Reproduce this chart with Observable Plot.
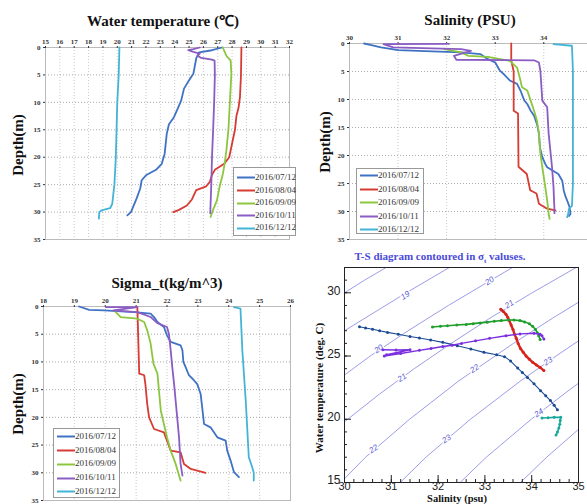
<!DOCTYPE html>
<html><head><meta charset="utf-8">
<script src="https://cdn.jsdelivr.net/npm/d3@7"></script>
<script src="https://cdn.jsdelivr.net/npm/@observablehq/plot@0.6"></script>
<style>
body{margin:0;background:#fff;}
#wrap{position:relative;width:587px;height:504px;overflow:hidden;background:#fff;}
.panel{position:absolute;}
.lbl{position:absolute;font-family:"Liberation Serif","Times New Roman",serif;font-weight:bold;white-space:nowrap;line-height:1;}
.legend{position:absolute;border:1px solid #999;background:#fff;box-sizing:border-box;font-family:"Liberation Serif",serif;font-size:9px;color:#333;}
.legend .row{position:absolute;white-space:nowrap;line-height:1;}
</style></head>
<body><div id="wrap"></div>
<script>
// ---------- categories ----------
const dates = ["2016/07/12","2016/08/04","2016/09/09","2016/10/11","2016/12/12"];
const profileColors = ["#3f72c4","#d63b34","#8cc63f","#8a5cc4","#44b4d6"];
const tsColors = ["#1b4a94","#d8231c","#1e9e2a","#7a2ee0","#1aa89e"];

// ---------- tick labels ----------
const depthTicks = [0,5,10,15,20,25,30,35];
const tempTicks = [15,16,17,18,19,20,21,22,23,24,25,26,27,28,29,30,31,32];
const salTicks = [30,31,32,33,34];
const sigmaTicks = [18,19,20,21,22,23,24,25,26];
const tsSalTicks = [30,31,32,33,34,35];
const tsTempTicks = [15,20,25,30];

// ---------- water temperature profiles [depth m, T degC] ----------
const tempJul = [[0,27.3],[0.5,26.6],[0.9,25.7],[2,25.5],[4.8,25.3],[6.4,24.9],[7.5,24.65],[9.7,24.45],[10.9,24.25],[12.7,23.95],[14,23.6],[15.7,23.45],[19.4,23.3],[21.2,23.1],[22.3,22.7],[23.3,22.0],[24.2,21.7],[25.7,21.6],[27.5,21.35],[29.1,21.1],[30.0,20.95],[30.6,20.7]];
const tempAug = [[0,28.65],[5,28.62],[9,28.55],[11,28.45],[12.5,28.3],[15,28.2],[17.5,28.0],[20,27.8],[21.2,27.45],[22.3,26.8],[23.2,26.6],[24.5,26.45],[25.3,26.2],[26.0,25.5],[27.7,25.2],[28.8,24.85],[29.6,24.3],[30.0,23.9]];
const tempSep = [[0,27.35],[1.5,27.6],[2.4,27.9],[4.8,27.95],[9.7,27.85],[14.8,27.75],[18.8,27.6],[21.2,27.48],[23,27.36],[25.4,27.13],[27.9,26.94],[29.7,26.66],[30.9,26.5]];
const tempOct = [[0,25.75],[0.3,25.3],[0.5,24.95],[0.8,25.3],[1.1,25.75],[1.5,25.6],[1.9,25.85],[2.2,26.6],[2.4,26.78],[5,26.8],[10,26.75],[15,26.68],[20,26.6],[25,26.55],[30.2,26.48]];
const tempDec = [[0,20.15],[5,20.1],[10,20.0],[15,19.95],[20,19.9],[25,19.8],[28.5,19.65],[29.3,19.5],[29.7,18.9],[30.0,18.75],[31.2,18.72]];

// ---------- salinity profiles [depth m, S psu] ----------
const salJul = [[0,30.3],[0.3,30.45],[0.7,30.65],[1.2,31.0],[1.4,31.7],[1.6,32.3],[1.9,32.7],[2.8,32.85],[3.4,33.0],[4.9,33.1],[5.5,33.18],[6.6,33.3],[7.2,33.45],[8.4,33.52],[10.2,33.6],[10.8,33.66],[12,33.73],[12.9,33.8],[14.4,33.86],[16.1,33.9],[18.5,33.92],[20.3,33.97],[21.5,34.03],[22.1,34.07],[23.3,34.3],[24.5,34.38],[26.2,34.41],[27.4,34.45],[28,34.48],[29.2,34.53],[30.4,34.55],[30.8,34.52]];
const salAug = [[0,33.33],[3,33.33],[5,33.38],[12,33.38],[12.5,33.47],[22,33.48],[23.3,33.65],[26.2,33.72],[26.8,33.85],[28.6,33.9],[29.5,34.07],[29.8,34.24]];
const salSep = [[1.0,31.95],[1.6,32.3],[2.2,32.45],[2.4,32.85],[2.8,33.1],[3.1,33.3],[4.3,33.45],[6.6,33.52],[7.8,33.55],[8.4,33.66],[10.2,33.73],[12,33.8],[13.8,33.86],[16.1,33.9],[19.7,33.93],[22.1,33.97],[25.6,34.03],[28,34.07],[30.4,34.1],[31.3,34.12]];
const salOct = [[0.05,32.05],[0.1,30.7],[0.7,30.9],[1.0,32.3],[1.3,32.5],[2.2,32.15],[2.9,32.2],[3.0,33.8],[3.4,33.9],[4.9,33.93],[10.2,33.97],[11.4,34.07],[16.1,34.1],[22.1,34.17],[25.6,34.2],[29.8,34.22],[30.3,34.22]];
const salDec = [[0.1,34.2],[0.4,34.58],[5,34.6],[15,34.6],[25,34.6],[29,34.58],[29.5,34.52],[30.5,34.5],[31,34.48]];

// ---------- sigma-t profiles [depth m, sigma_t] ----------
const sigJul = [[0,19.15],[0.6,19.48],[0.7,19.96],[1.0,20.93],[1.3,21.47],[1.9,21.58],[2.8,21.69],[3.7,21.9],[5.2,22.0],[6.4,22.12],[7.0,22.44],[7.9,22.5],[10,22.53],[10.9,22.6],[12.4,22.71],[13.3,22.87],[14,22.98],[15.8,23.09],[18.2,23.14],[21.2,23.2],[21.8,23.41],[22.7,23.52],[23.6,23.63],[24.2,23.9],[26,23.95],[27.8,24.06],[29.9,24.17],[30.8,24.33]];
const sigAug = [[0.1,21.04],[12.1,21.1],[12.4,21.26],[14,21.3],[17.6,21.36],[20,21.42],[22.1,21.58],[22.7,21.9],[24.2,22.0],[26,22.12],[26.3,22.44],[28.4,22.55],[29.3,22.77],[30,23.25]];
const sigSep = [[1.0,20.34],[1.9,20.5],[2.2,21.04],[2.8,21.26],[4.3,21.36],[6.7,21.47],[10.3,21.56],[12.1,21.69],[15.2,21.74],[18.8,21.8],[21.2,21.9],[23.6,22.0],[26,22.12],[28.4,22.28],[31.4,22.44]];
const sigOct = [[0.1,20.02],[0.1,21.04],[0.7,20.26],[1.0,21.04],[1.9,21.47],[3.0,21.69],[3.7,22.0],[4.9,22.06],[7.9,22.12],[10.9,22.17],[14,22.23],[17,22.28],[20,22.33],[23.6,22.39],[28.4,22.44],[30.5,22.5]];
const sigDec = [[0.1,24.17],[0.4,24.38],[7.9,24.44],[17,24.55],[27.2,24.65],[29,24.76],[30,24.81],[31.4,24.81]];

// ---------- T-S diagram [S psu, T degC] ----------
const tsJul = [[30.32,27.32],[30.45,27.22],[30.6,27.12],[30.75,27.0],[30.92,26.87],[31.15,26.72],[31.4,26.55],[31.6,26.42],[31.84,26.27],[32.1,26.08],[32.41,25.82],[32.7,25.55],[32.98,25.29],[33.25,25.1],[33.42,24.95],[33.55,24.6],[33.7,24.05],[33.8,23.7],[33.91,23.31],[34.05,22.8],[34.19,22.26],[34.3,21.85],[34.4,21.48],[34.48,21.1],[34.55,20.75]];
const tsAug = [[33.34,28.7],[33.4,28.5],[33.45,28.3],[33.49,28.05],[33.52,27.8],[33.56,27.45],[33.6,27.1],[33.63,26.75],[33.67,26.4],[33.71,26.0],[33.76,25.6],[33.82,25.3],[33.88,25.0],[33.95,24.75],[34.02,24.5],[34.1,24.3],[34.18,24.1],[34.26,23.85]];
const tsSep = [[31.88,27.3],[32.05,27.35],[32.2,27.4],[32.4,27.45],[32.6,27.5],[32.75,27.56],[32.9,27.62],[33.05,27.68],[33.2,27.75],[33.35,27.8],[33.5,27.85],[33.62,27.85],[33.75,27.8],[33.85,27.7],[33.95,27.55],[34.02,27.35],[34.08,27.1],[34.12,26.85],[34.15,26.6],[34.18,26.3]];
const tsOct = [[30.82,25.5],[31.1,25.48],[31.4,25.5],[30.9,25.1],[30.85,25.0],[31.2,25.2],[31.6,25.45],[31.85,25.6],[32.1,25.75],[32.3,25.85],[32.5,26.0],[32.8,26.2],[33.1,26.4],[33.45,26.6],[33.75,26.75],[34.05,26.8],[34.18,26.72],[34.22,26.6],[34.26,26.35]];
const tsDec = [[34.22,20.1],[34.35,20.12],[34.48,20.15],[34.62,20.15],[34.61,19.9],[34.6,19.6],[34.58,19.3],[34.55,19.0],[34.52,18.75]];

// ---------- sigma-t contour lines [S, T] ----------
const contourLevels = [18,19,20,21,22,23,24,25];
const contour18 = [[30.0,30.0],[30.43,31],[30.89,32]];
const contour19 = [[30.0,27.0],[30.44,28],[31.32,30],[32.24,32]];
const contour20 = [[30.0,23.5],[30.55,25],[31.36,27],[32.22,29],[33.13,31],[33.59,32]];
const contour21 = [[30.0,19.8],[30.75,22],[31.49,24],[32.28,26],[33.11,28],[34.01,30],[34.95,32]];
const contour22 = [[30.0,15.3],[30.45,17],[31.39,20],[32.43,23],[33.61,26],[34.45,28],[35.0,29.25]];
const contour23 = [[31.19,15],[31.74,17],[32.69,20],[33.75,23],[34.52,25],[35.0,26.2]];
const contour24 = [[32.47,15],[33.03,17],[33.99,20],[34.69,22],[35.0,22.85]];
const contour25 = [[33.76,15],[34.32,17],[35.0,19.2]];
const contourLabelText = ["19","20","20","21","21","22","22","23","23","24"];
const contourLabelS = [31.3,33.1,30.73,33.52,31.23,32.78,30.62,34.35,32.18,34.15];
const contourLabelT = [29.8,30.95,25.56,29.1,23.3,24.0,17.66,24.6,18.45,20.5];

// ---------- helpers ----------
const wrap = document.getElementById("wrap");
function place(el, left, top) { el.classList.add("panel"); el.style.left = left + "px"; el.style.top = top + "px"; wrap.appendChild(el); }
function label(html, cx, cy, size, rot = 0, color = "#111") {
  const d = document.createElement("div");
  d.className = "lbl";
  d.innerHTML = html;
  d.style.fontSize = size + "px";
  d.style.color = color;
  d.style.left = cx + "px"; d.style.top = cy + "px";
  d.style.transform = `translate(-50%,-50%) rotate(${rot}deg)`;
  wrap.appendChild(d);
}
function legend(left, top, w, h, rowY0, rowGap) {
  const d = document.createElement("div");
  d.className = "legend";
  d.style.left = left + "px"; d.style.top = top + "px";
  d.style.width = w + "px"; d.style.height = h + "px";
  dates.forEach((t, i) => {
    const r = document.createElement("div");
    r.className = "row";
    r.style.left = "2px"; r.style.top = (rowY0 + i * rowGap - 5) + "px";
    r.innerHTML = `<svg width="19" height="9" style="vertical-align:middle"><line x1="1" x2="19" y1="4.5" y2="4.5" stroke="${profileColors[i]}" stroke-width="2"/></svg><span style="vertical-align:middle">${t}</span>`;
    d.appendChild(r);
  });
  wrap.appendChild(d);
}
const gridStyle = {stroke: "#888", strokeOpacity: 0.7, strokeDasharray: "1,2"};
const profStyle = {fontFamily: "'Liberation Serif', serif", fontSize: "7px", fontWeight: "bold", color: "#333", background: "transparent"};

function profilePanel(opts, profiles, xTicks) {
  const marks = [
    Plot.gridX(xTicks, {...gridStyle, strokeOpacity: 0.45}),
    Plot.gridY(depthTicks, gridStyle),
    Plot.frame({stroke: "#bbb"}),
    Plot.axisX(xTicks, {anchor: "top", tickSize: 2, tickPadding: 2, label: null}),
    Plot.axisY(depthTicks, {anchor: "left", tickSize: 2, tickPadding: 3, label: null})
  ];
  profiles.forEach((p, i) => marks.push(Plot.line(p, {x: d => d[1], y: d => d[0], stroke: profileColors[i], strokeWidth: 1.8})));
  return Plot.plot({...opts, y: {domain: [0, 35], reverse: true}, style: profStyle, marks});
}

// ---------- panel 1: water temperature ----------
place(profilePanel({width: 300, height: 250, marginLeft: 45, marginRight: 11, marginTop: 47, marginBottom: 11, x: {domain: [15, 32]}},
  [tempJul, tempAug, tempSep, tempOct, tempDec], tempTicks), 0, 0);
label("Water temperature (℃)", 163, 21, 15);
label("Depth(m)", 18, 145, 15, -90);
legend(233, 167, 63, 69, 10, 12.6);

// ---------- panel 2: salinity ----------
place(profilePanel({width: 287, height: 250, marginLeft: 49, marginRight: 0, marginTop: 43, marginBottom: 11, x: {domain: [30, 34.9]}},
  [salJul, salAug, salSep, salOct, salDec], salTicks), 300, 0);
label("Salinity (PSU)", 470, 20, 15);
label("Depth(m)", 325, 142, 15, -90);
legend(356, 168, 68, 66, 7, 13.5);

// ---------- panel 3: sigma-t ----------
place(profilePanel({width: 300, height: 254, marginLeft: 43, marginRight: 10, marginTop: 56, marginBottom: 4, x: {domain: [18, 26]}},
  [sigJul, sigAug, sigSep, sigOct, sigDec], sigmaTicks), 0, 250);
label("Sigma_t(kg/m^3)", 167, 283, 15);
label("Depth(m)", 18, 404, 15, -90);
legend(53, 428, 67, 70, 8, 13.7);

// ---------- panel 4: T-S diagram ----------
const contourRows = [contour18, contour19, contour20, contour21, contour22, contour23, contour24, contour25]
  .flatMap((c, i) => c.map(([S, T]) => ({level: contourLevels[i], S, T})));
const contourLabels = contourLabelText.map((t, i) => ({text: t, S: contourLabelS[i], T: contourLabelT[i]}));
const tsSets = [tsJul, tsAug, tsSep, tsOct, tsDec];
const tsWidths = [1.1, 2.4, 1.6, 1.4, 1.6];
const xMinor = d3.range(30, 35.001, 0.2).map(v => +v.toFixed(1));
const yMinor = d3.range(15, 32.001, 1);
const tsMarks = [
  Plot.line(contourRows, {x: "S", y: "T", z: "level", stroke: "#9d9de8", strokeWidth: 1}),
  Plot.text(contourLabels, {x: "S", y: "T", text: "text", rotate: -34, fill: "#5a5ad6", stroke: "white", strokeWidth: 3, fontSize: 8, fontStyle: "italic"}),
];
tsSets.forEach((s, i) => {
  tsMarks.push(Plot.line(s, {x: d => d[0], y: d => d[1], stroke: tsColors[i], strokeWidth: tsWidths[i]}));
  tsMarks.push(Plot.dot(s, {x: d => d[0], y: d => d[1], r: 1.5, fill: tsColors[i], stroke: "none"}));
});
tsMarks.push(
  Plot.tickX(xMinor, {x: d => d, insetTop: 212, stroke: "#222"}),
  Plot.tickX(tsSalTicks, {x: d => d, insetTop: 208, stroke: "#222"}),
  Plot.tickY(yMinor, {y: d => d, insetRight: 231, stroke: "#222"}),
  Plot.tickY(tsTempTicks, {y: d => d, insetRight: 227, stroke: "#222"}),
  Plot.frame({stroke: "#222"}),
  Plot.axisX(tsSalTicks, {anchor: "bottom", tickSize: 0, tickPadding: 0, label: null, fontSize: 11}),
  Plot.axisY(tsTempTicks, {anchor: "left", tickSize: 0, tickPadding: 4, label: null, fontSize: 12, dy: -2})
);
place(Plot.plot({
  width: 287, height: 254, marginLeft: 44, marginRight: 9, marginTop: 17, marginBottom: 22,
  x: {domain: [30, 35]}, y: {domain: [15, 32]},
  style: {fontFamily: "'Liberation Sans', Arial, sans-serif", fontSize: "12px", color: "#222", background: "transparent"},
  marks: tsMarks
}), 300, 250);
label("T-S diagram contoured in σ<sub style='font-size:7px'>t</sub> valuses.", 440, 258, 11, 0, "#4a4ad8");
label("Water temperature (deg. C)", 319, 388, 11, -90);
label("Salinity (psu)", 457, 498.5, 10.5);
</script></body></html>
